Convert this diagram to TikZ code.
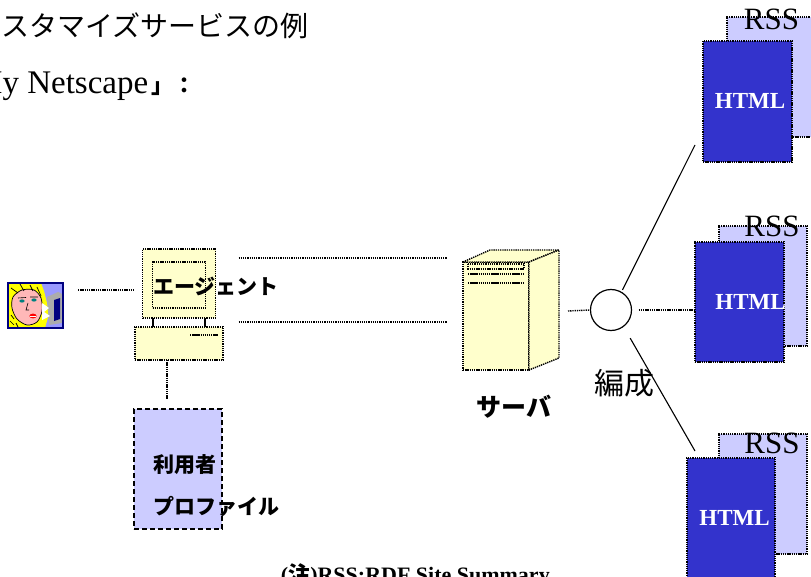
\documentclass[tikz,border=0pt]{standalone}
\usepackage{fontspec}
\setmainfont{Liberation Serif}
\newfontfamily\jp{Noto Sans CJK JP}
\usetikzlibrary{calc}
\definecolor{paleyellow}{HTML}{FFFFCC}
\definecolor{lavender}{HTML}{CCCCFF}
\definecolor{htmlblue}{HTML}{3333CC}
\definecolor{iconbg}{HTML}{9999FF}
\definecolor{hairyellow}{HTML}{FFFF00}
\definecolor{facepink}{HTML}{FFB8B8}
\definecolor{navy}{HTML}{000080}
\tikzset{
  dotline/.style={line width=1.4pt, dash pattern=on 1.3pt off 0.9pt},
  conn/.style={dotline, draw=black},
  solidconn/.style={line width=1.1pt, draw=black},
  dotbox/.style={draw=black, dotline, inner sep=0pt, outer sep=0pt},
  yellowbox/.style={dotbox, fill=paleyellow},
  rssbox/.style={dotbox, fill=lavender, minimum width=88pt, minimum height=120pt},
  htmlbox/.style={dotbox, fill=htmlblue, minimum width=88pt, minimum height=121pt},
  rsslabel/.style={anchor=base, inner sep=0pt, font=\fontsize{31}{33}\selectfont},
  htmllabel/.style={inner sep=0pt, text=white, font=\bfseries\fontsize{23}{25}\selectfont},
  jplabel/.style={inner sep=0pt, font=\jp\bfseries\fontsize{#1}{#1}\selectfont},
  ventline/.style={black, line width=2.6pt, dash pattern=on 1.4pt off 0.7pt},
}
\begin{document}
\begin{tikzpicture}[x=1pt,y=-1pt]
\useasboundingbox (0,0) rectangle (811,577);
\clip (0,0) rectangle (811,577);

% heading lines
\node[anchor=base east, inner sep=0pt, font=\jp\fontsize{28}{30}\selectfont] (title) at (309,37) {カスタマイズサービスの例};
\node[anchor=base west, inner sep=0pt, font=\fontsize{33}{36}\selectfont] (sub) at (-27,94) {My Netscape};
\node[anchor=base west, inner sep=0pt, font=\jp\bfseries\fontsize{22}{24}\selectfont] (subend) at ($(sub.base east)+(3,0)$) {」：};

% user clip-art
\node[minimum width=55pt, minimum height=45pt, inner sep=0pt, outer sep=0pt] (user) at (35.5,305.5) {};
\begin{scope}[shift={(user.north west)}]
  \fill[iconbg] (0,0) rectangle (55,45);
  \fill[hairyellow] (0,0) -- (33,0) -- (36,8) -- (39,20) -- (41,31) -- (37,45) -- (0,45) -- cycle;
  \fill[facepink, draw=black, line width=0.7pt] plot[smooth cycle] coordinates {(5,14) (14,7) (26,7) (33,15) (34,28) (29,39) (19,42) (9,36) (4,25)};
  \draw[black, line width=0.7pt] (3,5) -- (10,10) (12,1) -- (16,8) (22,2) -- (25,8) (29,4) -- (33,13);
  \fill[teal] (14,18) ellipse (2.6 and 1.6);
  \fill[teal] (26,17) ellipse (2.6 and 1.6);
  \draw[black, line width=0.6pt] (10,15) -- (18,14.5) (22,14) -- (30,14);
  \draw[black, line width=0.6pt] (20,20) -- (18,27) -- (21,27);
  \fill[red] (25,33) ellipse (3.6 and 2.4);
  \draw[white, line width=0.6pt] (22,33) -- (28,33);
  \draw[black, line width=0.7pt] (3,32) -- (6,36) (2,38) -- (6,42) (8,40) -- (10,44);
  \fill[gray!65] (39,14) -- (50,9) -- (54,11) -- (54,40) -- (41,42) -- cycle;
  \fill[navy] (46,17) -- (52,15) -- (52,36) -- (46,38) -- cycle;
  \fill[white] (34,20) -- (41,25) -- (36,29) -- (42,33) -- (34,37) -- cycle;
  \draw[navy, line width=2pt] (0,0) rectangle (55,45);
\end{scope}

% agent computer
\node[yellowbox, minimum width=73pt, minimum height=69pt] (mon) at (179,283.5) {};
\node[yellowbox, minimum width=53pt, minimum height=46pt] (scr) at (179,285) {};
\node[yellowbox, minimum width=88pt, minimum height=33pt] (base) at (179,343.5) {};
\draw[solidconn] ($(mon.south)+(-26,0)$) -- ($(base.north)+(-26,0)$);
\draw[solidconn] ($(mon.south)+(26,0)$) -- ($(base.north)+(26,0)$);
\draw[ventline] ($(base.north)+(11,8)$) -- ($(base.north)+(39,8)$);
\node[jplabel=21] (agent) at (216,286) {エージェント};

% user profile
\node[draw=black, fill=lavender, line width=1.5pt, dash pattern=on 5pt off 3pt, minimum width=88pt, minimum height=120pt, inner sep=0pt] (prof) at (178,469) {};
\node[jplabel=21, anchor=west] (prof1) at (153,465) {利用者};
\node[jplabel=21, anchor=west] (prof2) at (153,507) {プロファイル};

% server
\node[yellowbox, minimum width=66pt, minimum height=108pt] (srvf) at (496,316) {};
\filldraw[fill=paleyellow, draw=black, dotline] (srvf.north west) -- ($(srvf.north west)+(27,-12)$) -- ($(srvf.north east)+(30,-12)$) -- (srvf.north east) -- cycle;
\filldraw[fill=paleyellow, draw=black, dotline] (srvf.north east) -- ($(srvf.north east)+(30,-12)$) -- ($(srvf.south east)+(30,-12)$) -- (srvf.south east) -- cycle;
\draw[dotline] ($(srvf.north west)+(5,2)$) rectangle ($(srvf.north east)+(-5,7)$);
\draw[ventline] ($(srvf.north west)+(5,12)$) -- ($(srvf.north east)+(-5,12)$);
\draw[ventline] ($(srvf.north west)+(5,21)$) -- ($(srvf.north east)+(-5,21)$);
\node[jplabel=25] (srvlabel) at (514,407) {サーバ};

% composition point
\node[draw=black, circle, minimum size=41pt, inner sep=0pt, line width=1.2pt, fill=white] (hub) at (611,310) {};
\node[inner sep=0pt, font=\jp\fontsize{30}{32}\selectfont] (hublabel) at (624,383) {編成};

% RSS / HTML stacks
\node[rssbox] (r1) at (771,77) {};
\node[rsslabel] (r1t) at (771.5,30) {RSS};
\node[htmlbox, minimum width=89pt] (h1) at (747.5,101.5) {};
\node[htmllabel] (h1t) at (750,101) {HTML};

\node[rssbox] (r2) at (763,286) {};
\node[rsslabel] (r2t) at (772,237) {RSS};
\node[htmlbox, minimum width=89pt, minimum height=120pt] (h2) at (739.5,302) {};
\node[htmllabel] (h2t) at (750.5,302) {HTML};

\node[rssbox] (r3) at (763,494) {};
\node[rsslabel] (r3t) at (772,453) {RSS};
\node[htmlbox] (h3) at (731,518.5) {};
\node[htmllabel] (h3t) at (734.5,518) {HTML};

% connectors
\draw[conn, shorten <=15pt, shorten >=9pt] (user.east |- 0,290) -- (mon.west |- 0,290);
\draw[conn] ($(mon.east)+(23,-25.5)$) -- ($(srvf.west)+(-16,-58)$);
\draw[conn] ($(mon.east)+(23,38.5)$) -- ($(srvf.west)+(-16,6)$);
\draw[conn] ($(base.south)+(-12,0)$) -- ($(prof.north)+(-11,-9)$);
\draw[conn] ($(srvf.east)+(39,-5)$) -- (hub.west);
\draw[conn, shorten <=6.5pt] (hub.east) -- (hub.east -| h2.west);
\draw[solidconn, shorten <=2pt] (hub.60) -- ($(h1.south west)+(-8,-17)$);
\draw[solidconn, shorten <=13pt] (hub.-53) -- ($(h3.north west)+(8,-7)$);

% footnote
\node[anchor=base east, inner sep=0pt, font=\bfseries\fontsize{22}{24}\selectfont] (note) at (550,582) {({\jp\bfseries 注})RSS:RDF Site Summary};
\end{tikzpicture}
\end{document}
